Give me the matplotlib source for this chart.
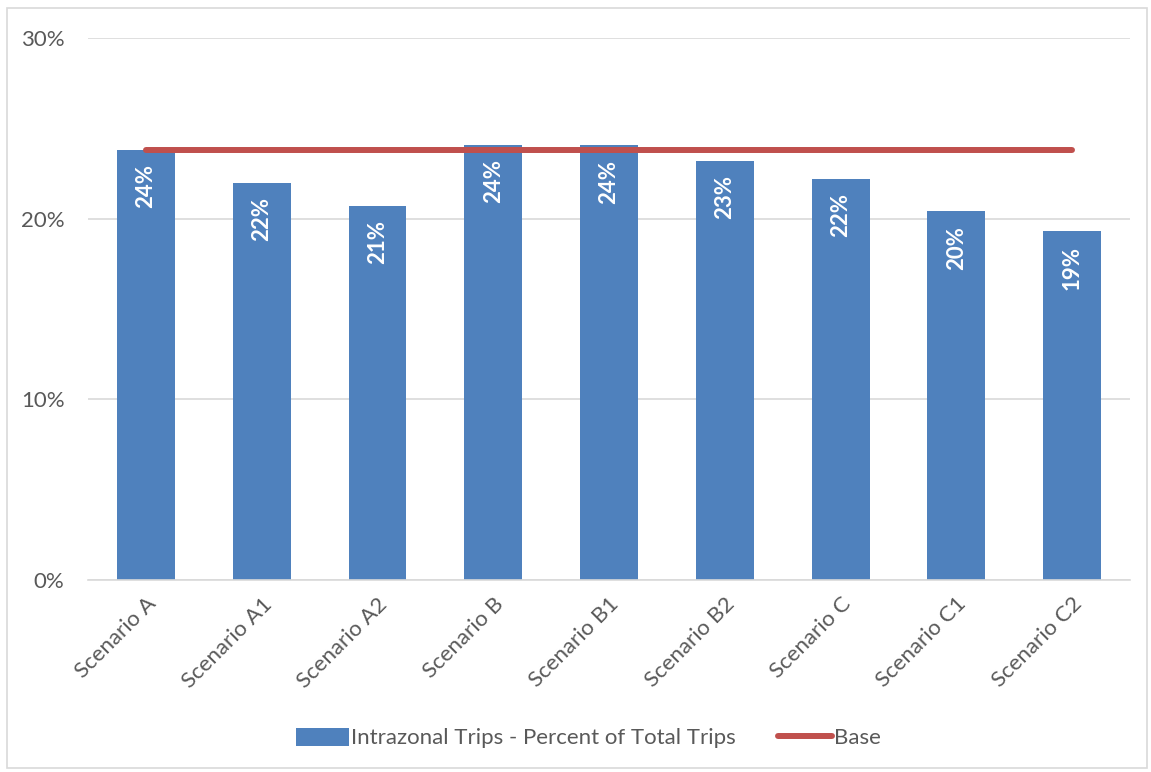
import matplotlib.pyplot as plt
from matplotlib.patches import Rectangle
from matplotlib.ticker import FuncFormatter

plt.rcParams['font.family'] = ['Lato', 'DejaVu Sans']

scenarios = ['Scenario A', 'Scenario A1', 'Scenario A2', 'Scenario B', 'Scenario B1',
             'Scenario B2', 'Scenario C', 'Scenario C1', 'Scenario C2']
intrazonal = [23.8, 22.0, 20.7, 24.1, 24.05, 23.2, 22.2, 20.4, 19.3]
base = [23.8] * len(scenarios)

fig = plt.figure(figsize=(11.51, 7.72), dpi=100)
ax = fig.add_axes([88 / 1151, 1 - 580 / 772, 1042 / 1151, 542 / 772])

x = list(range(len(scenarios)))
bars = ax.bar(x, intrazonal, width=0.5, color='#4f81bd', zorder=2,
              label='Intrazonal Trips - Percent of Total Trips')
line, = ax.plot(x, base, color='#c0504d', lw=4.3, solid_capstyle='round', zorder=3, label='Base')

# value labels, rotated, just inside the top of each bar
for xi, v in zip(x, intrazonal):
    ax.text(xi, v - 0.8, f'{v:.0f}%', rotation=90, ha='center', va='top',
            color='white', fontsize=16, fontweight='bold', zorder=4)

ax.set_xlim(-0.5, len(scenarios) - 0.5)
ax.set_ylim(0, 30)
ax.set_yticks([0, 10, 20, 30])
ax.yaxis.set_major_formatter(FuncFormatter(lambda v, p: f'{v:.0f}%'))
ax.grid(axis='y', color='#d9d9d9', lw=1.2, zorder=0)
ax.set_xticks(x)
ax.set_xticklabels(scenarios, rotation=45, ha='right', rotation_mode='anchor')
ax.tick_params(axis='both', length=0, labelsize=16, colors='#595959')
ax.tick_params(axis='y', pad=17)
ax.tick_params(axis='x', pad=10)
for s in ['top', 'right', 'left']:
    ax.spines[s].set_visible(False)
ax.spines['bottom'].set_color('#d9d9d9')
ax.spines['bottom'].set_linewidth(1.2)

leg = fig.legend([bars, line], [bars.get_label(), line.get_label()],
                 loc='center', bbox_to_anchor=(0.511, 1 - 738 / 772), ncol=2, frameon=False,
                 fontsize=16, handlelength=2.4, handleheight=0.9, handletextpad=0.1,
                 columnspacing=1.9)
for t in leg.get_texts():
    t.set_color('#595959')

# thin frame round the whole chart
fig.patches.append(Rectangle((7 / 1151, 4 / 772), 1140 / 1151, 760 / 772,
                             transform=fig.transFigure, fill=False,
                             edgecolor='#d9d9d9', lw=1.2))

fig.savefig('out.png', dpi=100)
